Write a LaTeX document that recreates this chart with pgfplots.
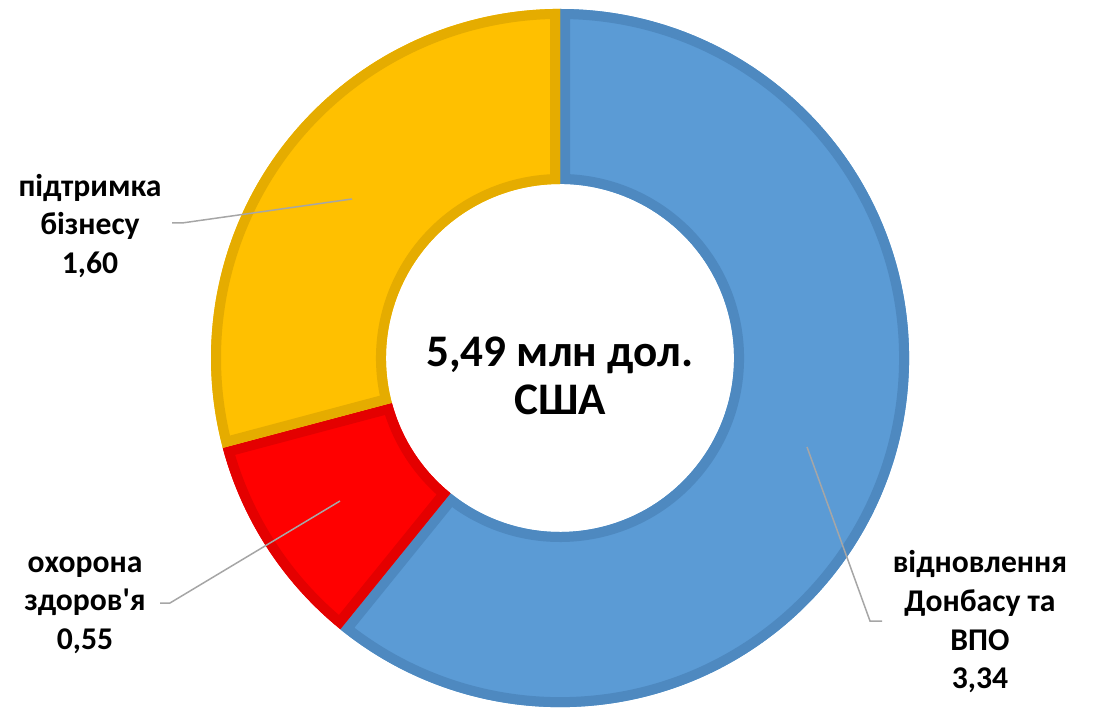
\documentclass[border=0pt]{standalone}
\usepackage{pgfplots}
\usepackage{pgfplotstable}
\pgfplotsset{compat=1.18}
\usepackage{fontspec}
\setmainfont{Carlito}[Ligatures=TeXOff]
\definecolor{cblue}{HTML}{5B9BD5}
\definecolor{cblueb}{HTML}{4E89C0}
\definecolor{cyel}{HTML}{FFC000}
\definecolor{cyelb}{HTML}{E5AC00}
\definecolor{cred}{HTML}{FF0000}
\definecolor{credb}{HTML}{E40000}
\definecolor{lead}{HTML}{A6A6A6}

\pgfplotstableread{
name value
donbas 3.34
health 0.55
business 1.60
}\datatable

\pgfplotstablegetelem{0}{value}\of\datatable \let\va\pgfplotsretval
\pgfplotstablegetelem{1}{value}\of\datatable \let\vb\pgfplotsretval
\pgfplotstablegetelem{2}{value}\of\datatable \let\vc\pgfplotsretval
\pgfmathsetmacro{\tot}{\va+\vb+\vc}
\pgfmathsetmacro{\aA}{90}
\pgfmathsetmacro{\aB}{90-360*\va/\tot}
\pgfmathsetmacro{\aC}{\aB-360*\vb/\tot}
\pgfmathsetmacro{\aD}{\aC-360*\vc/\tot}

% geometry in pixel units (1px = 0.02cm)
\def\cx{560}\def\cy{350}\def\R{349}\def\r{174}

\newcommand{\sectorpath}[2]{%
 (axis cs:{\cx+\R*cos(#1)},{\cy+\R*sin(#1)}) arc[start angle=#1, end angle=#2, radius=\R*0.02cm]
 -- (axis cs:{\cx+\r*cos(#2)},{\cy+\r*sin(#2)}) arc[start angle=#2, end angle=#1, radius=\r*0.02cm] -- cycle}
\newcommand{\sector}[4]{%
 \fill[#3] \sectorpath{#1}{#2};
 \begin{scope}
 \clip \sectorpath{#1}{#2};
 \draw[#4, line width=0.4cm, line join=miter] \sectorpath{#1}{#2};
 \end{scope}}

\begin{document}
\begin{tikzpicture}
\begin{axis}[width=21.88cm, height=14.16cm, scale only axis,
  xmin=0, xmax=1094, ymin=0, ymax=708, hide axis, clip=false]
\path (axis cs:0,0) rectangle (axis cs:1094,708);
\sector{\aA}{\aB}{cblue}{cblueb}
\sector{\aB}{\aC}{cred}{credb}
\sector{\aC}{\aD}{cyel}{cyelb}

\draw[lead, line width=0.85pt] (axis cs:172,485) -- (axis cs:182,485) -- (axis cs:352,509);
\draw[lead, line width=0.85pt] (axis cs:160,105) -- (axis cs:170,105) -- (axis cs:340,207);
\draw[lead, line width=0.85pt] (axis cs:807,261) -- (axis cs:870,87) -- (axis cs:882,87);

\node[align=center, font=\bfseries\fontsize{18pt}{22pt}\selectfont] at (axis cs:90,482) {підтримка\\бізнесу\\1,60};
\node[align=center, font=\bfseries\fontsize{18pt}{22pt}\selectfont] at (axis cs:85,103) {охорона\\здоров'я\\0,55};
\node[align=center, font=\bfseries\fontsize{18pt}{22pt}\selectfont] at (axis cs:980,86) {відновлення\\Донбасу та\\ВПО\\3,34};
\node[align=center, font=\bfseries\fontsize{25.7pt}{27.3pt}\selectfont] at (axis cs:560,332) {5,49 млн дол.\\США};
\end{axis}
\end{tikzpicture}
\end{document}
